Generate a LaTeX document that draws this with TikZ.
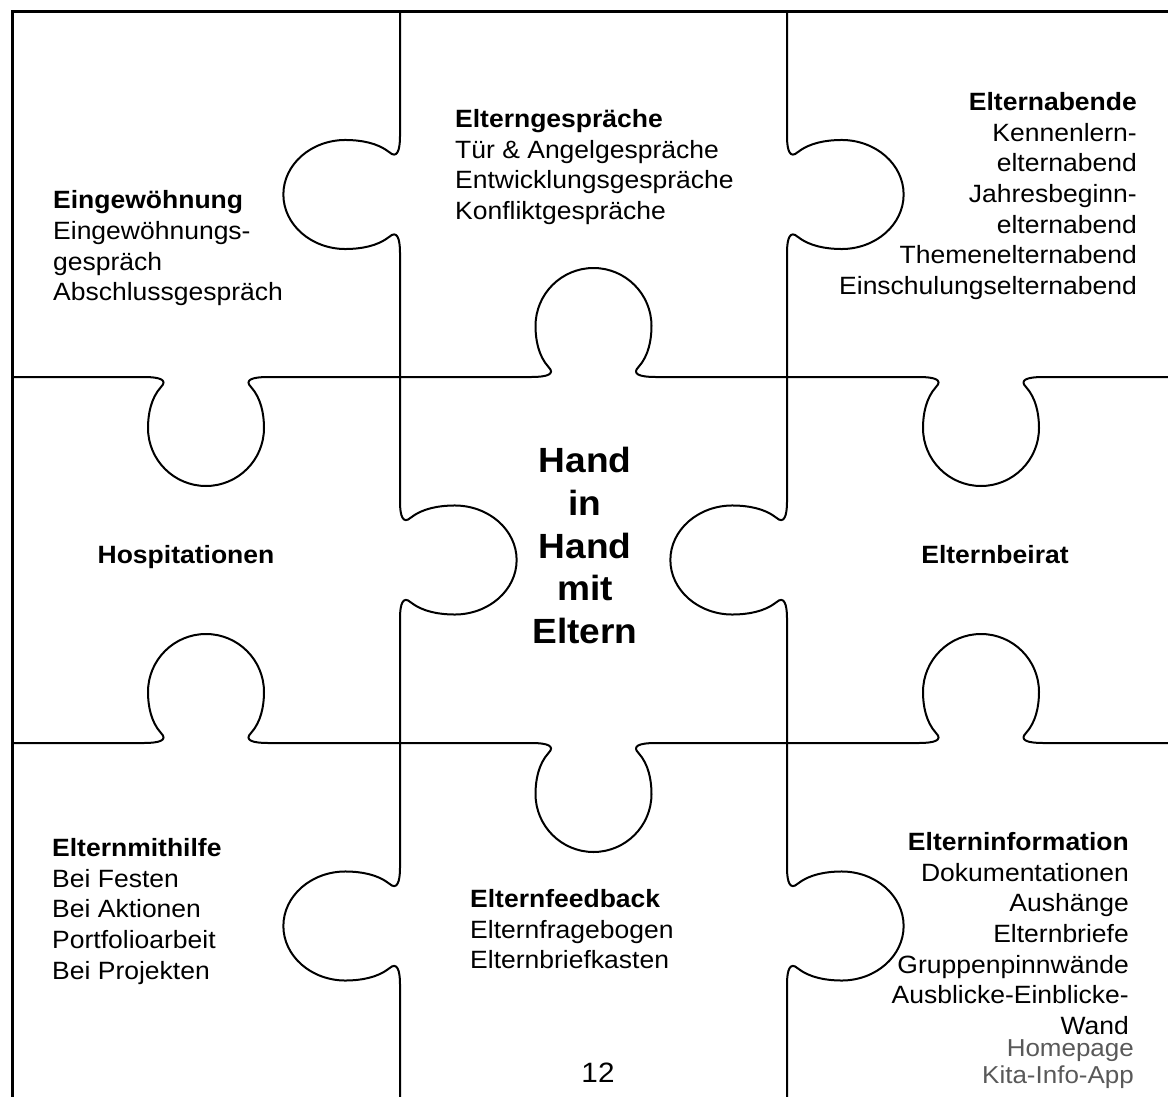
\documentclass[tikz,border=0pt]{standalone}
\usepackage{fontspec}
\setmainfont{Liberation Sans}[FakeStretch=1.06]
\usepackage{tikz}
\tikzstyle{cut} = [draw, line width=2pt, line join=round, line cap=round]
\tikzstyle{frame} = [draw, line width=3pt]
\tikzstyle{vtab} = [xscale=0.94, yscale=1.07]
\tikzstyle{txt} = [inner sep=0pt, align=left, font=\fontsize{25}{30.7}\selectfont]
\tikzstyle{head} = [inner sep=0pt, font=\fontsize{25}{30.7}\selectfont\bfseries]
\tikzstyle{motto} = [inner sep=0pt, align=center, font=\fontsize{35}{42.8}\selectfont\bfseries]
\tikzstyle{extra} = [inner sep=0pt, align=right, text=black!65, font=\fontsize{24.5}{26.5}\selectfont]

% one knob, bulging to local +y
\newcommand{\knob}{-- (-62,0) .. controls (-46,0) and (-38,3) .. (-45,10)
  .. controls (-55,21) and (-58,37) .. (-58,51)
  .. controls (-58,83) and (-32,109) .. (0,109)
  .. controls (32,109) and (58,83) .. (58,51)
  .. controls (58,37) and (55,21) .. (45,10)
  .. controls (38,3) and (46,0) .. (62,0)}

\begin{document}
\begin{tikzpicture}[x=1pt, y=-1pt]
\useasboundingbox (0,0) rectangle (1168,1097);
\clip (0,0) rectangle (1168,1097);

% horizontal cuts
\draw [cut, shift={(206,377)}] (-194,0) \knob -- (194,0);
\draw [cut, shift={(593.5,377)}, yscale=-1] (-194,0) \knob -- (194,0);
\draw [cut, shift={(981,377)}] (-194,0) \knob -- (194,0);
\draw [cut, shift={(206,743)}, yscale=-1] (-194,0) \knob -- (194,0);
\draw [cut, shift={(593.5,743)}] (-194,0) \knob -- (194,0);
\draw [cut, shift={(981,743)}, yscale=-1] (-194,0) \knob -- (194,0);

% vertical cuts
\draw [cut, shift={(400,194.5)}, rotate=-90, vtab] (-195,0) \knob -- (195,0);
\draw [cut, shift={(400,560)}, rotate=90, vtab] (-195,0) \knob -- (195,0);
\draw [cut, shift={(400,926)}, rotate=-90, vtab] (-195,0) \knob -- (195,0);
\draw [cut, shift={(787,194.5)}, rotate=90, vtab] (-195,0) \knob -- (195,0);
\draw [cut, shift={(787,560)}, rotate=-90, vtab] (-195,0) \knob -- (195,0);
\draw [cut, shift={(787,926)}, rotate=90, vtab] (-195,0) \knob -- (195,0);

\draw [frame] (12,1110) -- (12,12) -- (1180,12);

\node [txt, anchor=north west] (eingew) at (53,190.5) {\textbf{Eingewöhnung}\\Eingewöhnungs-\\gespräch\\Abschlussgespräch};
\node [txt, anchor=north west] (gespraech) at (455,109) {\textbf{Elterngespräche}\\Tür \& Angelgespräche\\Entwicklungsgespräche\\Konfliktgespräche};
\node [txt, align=right, anchor=north east] (abende) at (1137,92) {\textbf{Elternabende}\\Kennenlern-\\elternabend\\Jahresbeginn-\\elternabend\\Themenelternabend\\Einschulungselternabend};
\node [head, anchor=base] (hospit) at (186,563) {Hospitationen};
\node [motto, anchor=north] (mitte) at (585,447) {Hand\\in\\Hand\\mit\\Eltern};
\node [head, anchor=base] (beirat) at (995,563) {Elternbeirat};
\node [txt, anchor=north west] (mithilfe) at (52,838) {\textbf{Elternmithilfe}\\Bei Festen\\Bei Aktionen\\Portfolioarbeit\\Bei Projekten};
\node [txt, anchor=north west] (feedback) at (470,889) {\textbf{Elternfeedback}\\Elternfragebogen\\Elternbriefkasten};
\node [txt, align=right, anchor=north east] (info) at (1129,832) {\textbf{Elterninformation}\\Dokumentationen\\Aushänge\\Elternbriefe\\Gruppenpinnwände\\Ausblicke-Einblicke-\\Wand};
\node [extra, anchor=north east] (web) at (1134,1039.5) {Homepage\\Kita-Info-App};
\node [txt, font=\fontsize{28}{30}\selectfont, anchor=base] (seite) at (598,1082) {12};
\end{tikzpicture}
\end{document}
